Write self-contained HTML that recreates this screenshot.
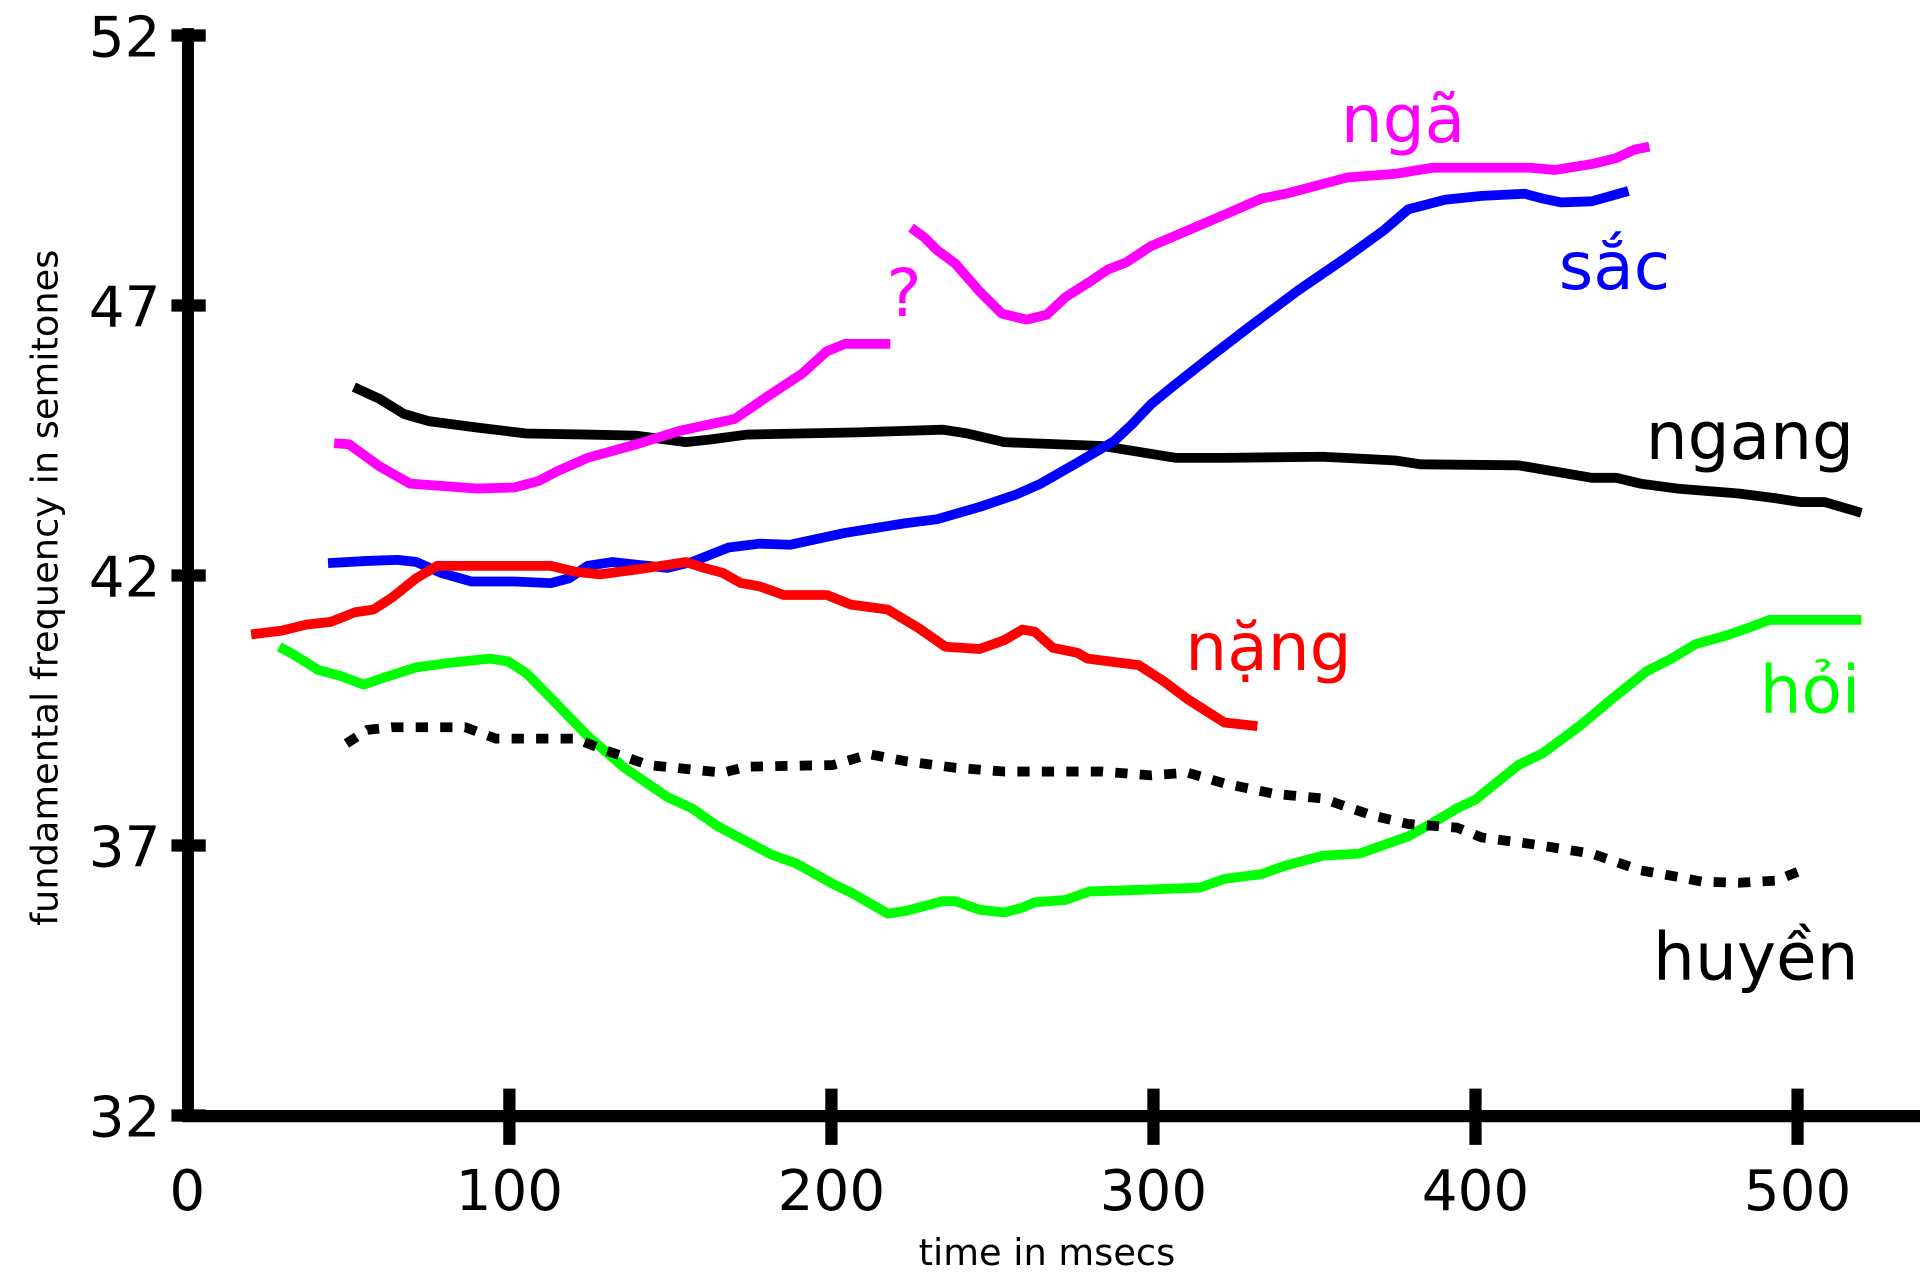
<!DOCTYPE html>
<html><head><meta charset="utf-8"><style>
html,body{margin:0;padding:0;background:#fff;}
svg{display:block;}
text{font-family:"DejaVu Sans","Liberation Sans",sans-serif;}
</style></head><body>
<svg id="chart" width="1920" height="1280" viewBox="0 0 1568 1045.33" xmlns="http://www.w3.org/2000/svg">
<g id="marks"></g>
<g id="axes"></g>
<g id="labels"></g>
</svg>
<script>
const xTicks=[0,100,200,300,400,500];
const yTicks=[32,37,42,47,52];
const ngangT=[51.7,59.7,67.3,74.9,90.1,105.3,124.3,139.5,154.8,162.4,173.8,208,234.6,242.2,253.6,284,295.4,306.8,322,352.5,375.3,382.9,413.3,436.1,443.7,451.3,462.7,481.7,493.2,500.8,508.4,519.8];
const ngangV=[45.49,45.27,44.99,44.86,44.74,44.63,44.61,44.59,44.47,44.52,44.61,44.65,44.70,44.63,44.47,44.40,44.29,44.18,44.18,44.20,44.13,44.06,44.04,43.81,43.81,43.70,43.61,43.52,43.43,43.36,43.36,43.16];
const nga1T=[45.6,50.2,59.7,69.2,78.7,90.1,101.5,109.1,114.8,124.3,139.5,152.9,170,179.5,190.9,198.5,204.2,218.3];
const nga1V=[44.45,44.43,44.02,43.70,43.66,43.61,43.63,43.75,43.93,44.18,44.43,44.68,44.90,45.29,45.74,46.15,46.29,46.29];
const nga2T=[224.7,228.9,232.7,238.4,246,252.9,260.5,266.9,272.6,280.2,285.9,291.6,299.2,310.6,322,333.5,341.1,360.1,375.3,386.7,417.1,424.7,436.1,443.7,449.4,454];
const nga2V=[48.44,48.26,48.03,47.78,47.26,46.85,46.74,46.83,47.15,47.44,47.67,47.80,48.10,48.39,48.68,48.98,49.07,49.37,49.44,49.55,49.55,49.51,49.62,49.73,49.89,49.94];
const sacT=[43.7,55.9,65.4,71.1,78.7,88.2,101.5,112.9,118.6,124.3,131.9,139.5,149,156.7,168.1,177.6,187.1,204.2,223.2,232.7,246,257.4,265,276.4,287.8,293.5,299.2,306.8,318.3,329.7,344.9,360.1,371.5,379.1,390.5,401.9,415.2,420.9,426.6,436.1,447.5];
const sacV=[42.23,42.27,42.29,42.25,42.05,41.89,41.89,41.86,41.95,42.18,42.25,42.20,42.14,42.25,42.52,42.59,42.57,42.79,42.97,43.04,43.27,43.50,43.70,44.09,44.49,44.81,45.17,45.54,46.08,46.60,47.28,47.90,48.39,48.78,48.96,49.03,49.07,48.98,48.91,48.93,49.12];
const nangT=[19.8,29.3,36.9,44.5,52.1,57.8,63.5,71.1,77.6,93.9,112.9,120.5,128.1,139.5,147.1,154.8,160.5,166.2,171.9,177.6,185.2,198.5,206.1,217.5,227,235.4,246,253.6,259.3,263.1,268.8,276.4,279.5,295.4,303,310.6,322,332.3];
const nangV=[40.91,40.98,41.09,41.14,41.32,41.37,41.59,41.95,42.18,42.18,42.18,42.07,42.02,42.11,42.18,42.25,42.14,42.05,41.86,41.80,41.64,41.64,41.46,41.37,41.03,40.68,40.64,40.80,41.00,40.96,40.66,40.57,40.46,40.34,40.05,39.71,39.28,39.21];
const hoiT=[28.5,33.1,40.7,47.5,54.8,61.6,71.1,82.5,93.9,99.6,105.3,112.9,124.3,135.7,149,156.7,164.3,181.4,189,200.4,206.1,217.5,223.2,234.6,238.4,246,253.6,259.3,263.1,272.6,280.2,291.6,314.4,322,333.5,341.1,352.5,363.9,371.5,379.1,386.7,394.3,400,413.3,420.9,432.3,443.7,453.2,460.8,468.4,477.9,485.6,491.3,519.8];
const hoiV=[40.68,40.53,40.25,40.14,39.98,40.12,40.30,40.39,40.46,40.41,40.19,39.73,39.03,38.44,37.90,37.69,37.37,36.83,36.67,36.29,36.13,35.74,35.79,35.97,35.97,35.81,35.76,35.85,35.95,35.99,36.15,36.17,36.22,36.38,36.47,36.63,36.81,36.85,37.01,37.17,37.42,37.69,37.85,38.49,38.71,39.21,39.78,40.23,40.46,40.73,40.89,41.05,41.18,41.18];
const huyenT=[49.4,55.9,63.5,86.3,95.8,120.5,130,143.3,166.2,173.8,200.4,211.8,223.2,238.4,253.6,284,299.2,310.6,322,337.3,352.5,367.7,379.1,394.3,401.9,417.1,436.1,451.3,462.7,470.3,481.7,493.2,500];
const huyenV=[38.89,39.14,39.19,39.19,38.98,38.98,38.76,38.49,38.35,38.46,38.49,38.69,38.56,38.44,38.37,38.37,38.30,38.35,38.15,37.96,37.87,37.56,37.40,37.33,37.15,37.03,36.85,36.54,36.42,36.33,36.31,36.35,36.51];

const NS="http://www.w3.org/2000/svg";
function xs(t){return 153+t*2.63;}
function ys(v){return 911-(v-32)*44.1;}
const marks=document.getElementById('marks');
const axes=document.getElementById('axes');
const labels=document.getElementById('labels');
function mk(tag,attrs,parent){const e=document.createElementNS(NS,tag);for(const k in attrs)e.setAttribute(k,attrs[k]);parent.appendChild(e);return e;}

function line(T,V,color,name,dash){
  const d=T.map((t,i)=>(i?'L':'M')+xs(t).toFixed(1)+','+ys(V[i]).toFixed(1)).join(' ');
  const p=mk('path',{d:d,fill:'none',stroke:color,'stroke-width':8,'stroke-linejoin':'round','stroke-linecap':'butt'},marks);
  if(dash)p.setAttribute('stroke-dasharray',dash);
  
  
}
line(ngangT,ngangV,'#000','ngang-line');
line(hoiT,hoiV,'#00ff00','hoi-line');
line(sacT,sacV,'#0000ff','sac-line');
line(nangT,nangV,'#ff0000','nang-line');
line(nga1T,nga1V,'#ff00ff','nga-line-part1');
line(nga2T,nga2V,'#ff00ff','nga-line-part2');
line(huyenT,huyenV,'#000','huyen-line','10 10');

const ya=mk('line',{x1:153.5,y1:23,x2:153.5,y2:915,stroke:'#000','stroke-width':9.8},axes);


const xa=mk('line',{x1:149,y1:911.5,x2:1568,y2:911.5,stroke:'#000','stroke-width':10},axes);


yTicks.forEach(v=>{
  const y=ys(v);
  const tk=mk('line',{x1:140,y1:y,x2:168,y2:y,stroke:'#000','stroke-width':10},axes);
  
  
  const tx=mk('text',{x:131,y:y+17,'text-anchor':'end','font-size':46,fill:'#000'},axes);
  tx.textContent=v;
  
  
});
xTicks.forEach(t=>{
  const x=xs(t);
  if(t>0){
    const tk=mk('line',{x1:x,y1:889,x2:x,y2:935,stroke:'#000','stroke-width':10},axes);
    
    
  }
  const tx=mk('text',{x:x,y:988,'text-anchor':'middle','font-size':46,fill:'#000'},axes);
  tx.textContent=t;
  
  
});
const xt=mk('text',{x:855,y:1033,'text-anchor':'middle','font-size':30,fill:'#000'},axes);
xt.textContent='time in msecs';


const yt=mk('text',{x:0,y:0,'text-anchor':'middle','font-size':30,fill:'#000',transform:'translate(47,480) rotate(-90)'},axes);
yt.textContent='fundamental frequency in semitones';



function lab(txt,x,y,color,size,name){
  const e=mk('text',{x:x,y:y,'font-size':size,fill:color},labels);
  e.textContent=txt;
  
  
}
lab('ngã',1095,116,'#ff00ff',54,'nga-label');
lab('sắc',1273,236,'#0000ff',54,'sac-label');
lab('ngang',1344,375,'#000',54,'ngang-label');
lab('nặng',968,547,'#ff0000',54,'nang-label');
lab('hỏi',1437,582,'#00ff00',54,'hoi-label');
lab('huyền',1350,800,'#000',54,'huyen-label');
lab('?',724,258,'#ff00ff',54,'question-mark-label');
</script>
</body></html>
